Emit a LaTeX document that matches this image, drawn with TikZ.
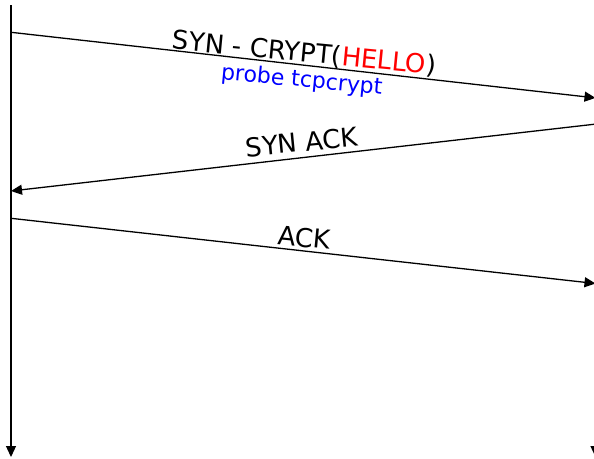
\documentclass[tikz,border=0pt]{standalone}
\usepackage{fontspec}
\setmainfont{DejaVu Sans}
\usepackage{xcolor}
\usetikzlibrary{arrows.meta}
\definecolor{helloRed}{HTML}{FF0000}
\definecolor{probeBlue}{HTML}{0000FF}
\newcommand{\msgfont}{\fontsize{26}{31}\selectfont}
\newcommand{\notefont}{\fontsize{22}{26}\selectfont}

\begin{document}
\begin{tikzpicture}[
  x=1pt, y=-1pt,
  line width=1.3pt,
  >={Triangle[length=11pt,width=10pt]},
  msg/.style={font=\msgfont, anchor=base, inner sep=0pt},
  note/.style={font=\notefont, probeBlue, anchor=base, inner sep=0pt},
]

% --- Frame ---
\useasboundingbox (0,0) rectangle (594,458);
\clip (0,0) rectangle (594,458);

% --- Constants ---
\def\xC{11}     % client lifeline
\def\xS{595.5}  % server lifeline

% --- Lifelines ---
\coordinate (clientTop) at (\xC,5);
\coordinate (clientBot) at (\xC,457);
\coordinate (serverTop) at (\xS,5);
\coordinate (serverBot) at (\xS,457);
\draw[->] (clientTop) -- (clientBot);
\draw[->] (serverTop) -- (serverBot);

% --- Message end points ---
\coordinate (c1) at (\xC,32.3);
\coordinate (s1) at (\xS,97.9);
\coordinate (s2) at (\xS,124.1);
\coordinate (c2) at (\xC,191);
\coordinate (c3) at (\xC,218.3);
\coordinate (s3) at (\xS,283.5);

% --- Messages ---
\draw[->] (c1) -- (s1)
  node[msg, midway, rotate=-5.5, yshift=3.5pt] (synLbl) {SYN - CRYPT(\textcolor{helloRed}{HELLO})}
  node[note, midway, rotate=-5.5, yshift=-22pt] (probeLbl) {probe tcpcrypt};
\draw[->] (s2) -- (c2)
  node[msg, midway, rotate=5.5, yshift=5.9pt] (synAckLbl) {SYN ACK};
\draw[->] (c3) -- (s3)
  node[msg, midway, rotate=-5.5, yshift=3.9pt] (ackLbl) {ACK};

\end{tikzpicture}
\end{document}
